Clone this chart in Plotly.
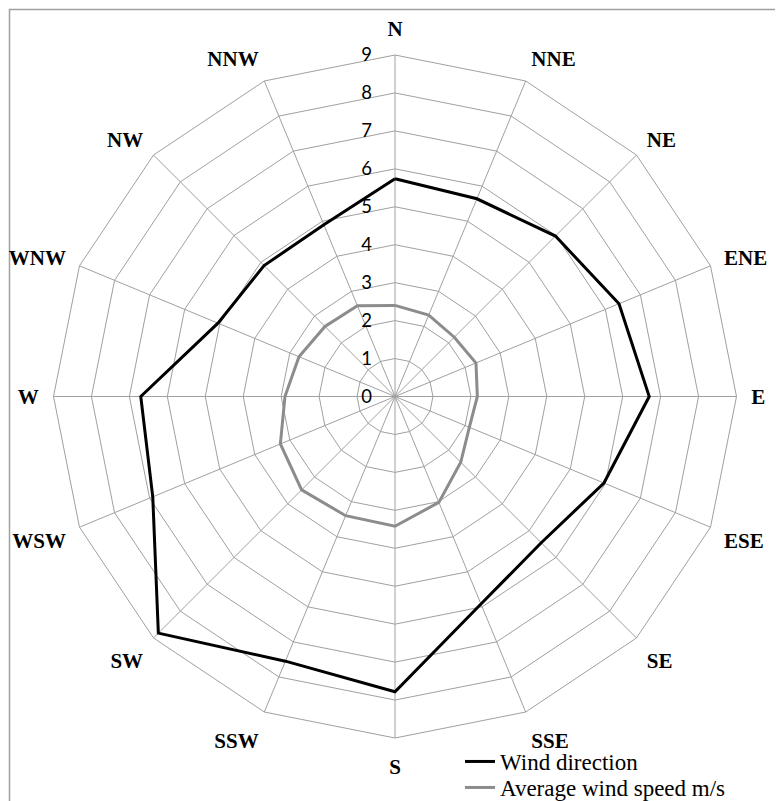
import plotly.graph_objects as go

directions = ["N", "NNE", "NE", "ENE", "E", "ESE", "SE", "SSE",
              "S", "SSW", "SW", "WSW", "W", "WNW", "NW", "NNW"]
wind_direction = [5.74, 5.64, 5.98, 6.39, 6.70, 5.96, 5.45, 5.92,
                  7.78, 7.55, 8.82, 6.91, 6.70, 5.05, 4.88, 4.90]
avg_speed = [2.40, 2.32, 2.21, 2.31, 2.17, 2.12, 2.45, 3.02,
             3.42, 3.40, 3.48, 3.27, 2.90, 2.74, 2.61, 2.59]
radial_ticks = list(range(0, 10))

W, H = 783, 801
ml, mr, mt, mb = 45, 54, 47, 71

fig = go.Figure()
fig.add_trace(go.Scatterpolar(
    r=wind_direction + wind_direction[:1], theta=directions + directions[:1],
    mode="lines", name="Wind direction", legend="legend",
    line=dict(color="#000000", width=3)))
fig.add_trace(go.Scatterpolar(
    r=avg_speed + avg_speed[:1], theta=directions + directions[:1],
    mode="lines", name="Average wind speed m/s", legend="legend2",
    line=dict(color="#8c8c8c", width=3)))

grid = "#a0a0a0"
legend_font = dict(family="Liberation Serif", size=23, color="#000000")
fig.update_layout(
    width=W, height=H,
    margin=dict(l=ml, r=mr, t=mt, b=mb, autoexpand=False),
    paper_bgcolor="white",
    showlegend=True,
    polar=dict(
        bgcolor="white",
        gridshape="linear",
        domain=dict(x=[0, 1], y=[0, 1]),
        angularaxis=dict(
            direction="clockwise", rotation=90,
            categoryorder="array", categoryarray=directions,
            showline=True, linecolor=grid, linewidth=1,
            showgrid=True, gridcolor=grid, gridwidth=1,
            ticks="outside", ticklen=10, tickcolor="rgba(0,0,0,0)",
            tickfont=dict(family="Liberation Serif", size=21, color="#000000",
                          weight="bold"),
        ),
        radialaxis=dict(
            range=[0, 9], tickvals=radial_ticks,
            ticktext=[str(v) for v in radial_ticks],
            angle=90, tickangle=90, side="counterclockwise",
            showline=False, showgrid=True, gridcolor=grid, gridwidth=1,
            ticks="outside", ticklen=16, tickcolor="rgba(0,0,0,0)",
            tickfont=dict(family="Lato", size=18.5, color="#000000"),
        ),
    ),
    legend=dict(
        xref="container", yref="container",
        x=452 / W, xanchor="left",
        y=1 - 732 / H, yanchor="top",
        font=legend_font, bgcolor="rgba(0,0,0,0)", borderwidth=0,
    ),
    legend2=dict(
        xref="container", yref="container",
        x=452 / W, xanchor="left",
        y=0, yanchor="bottom",
        font=legend_font, bgcolor="rgba(0,0,0,0)", borderwidth=0,
    ),
)

pw, ph = W - ml - mr, H - mt - mb
fig.add_shape(type="rect", xref="paper", yref="paper",
              x0=(1.5 - ml) / pw, x1=(W - 4.5 - ml) / pw,
              y0=-(H - 2.5 - mt - ph) / ph, y1=1 + (mt - 1.5) / ph,
              line=dict(color="#a0a0a0", width=1.5), layer="below")

fig.write_html("out.html")
